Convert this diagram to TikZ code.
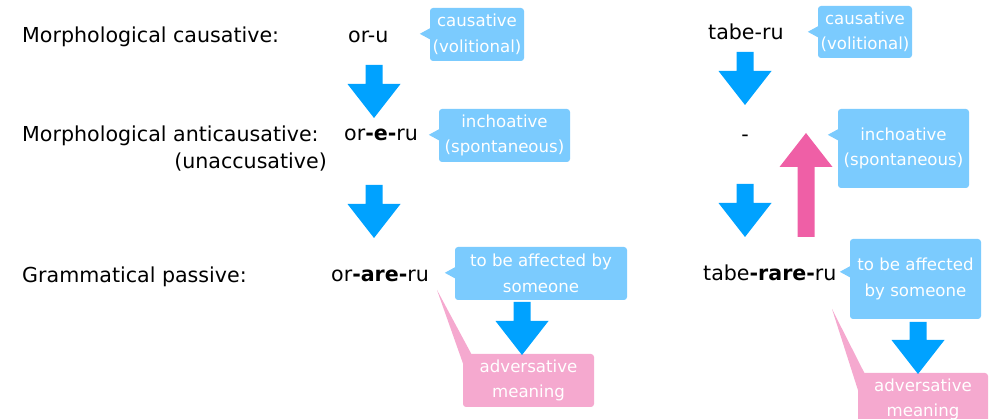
\documentclass[tikz,border=0pt]{standalone}
\usepackage{fontspec}
\setmainfont{DejaVu Sans}
\usetikzlibrary{calc}
\definecolor{boxblue}{HTML}{7BCBFE}
\definecolor{arrblue}{HTML}{00A2FF}
\definecolor{boxpink}{HTML}{F5A9CF}
\definecolor{arrpink}{HTML}{EF5FA6}
\newcommand\blockarrow[4]{% #1 start, #2 tip, #3 colour, #4 sign (1 down, -1 up)
  \fill[#3] ($(#1)+(-8.5,0)$) -- ($(#2)+({-8.5},{-34*#4})$) -- ($(#2)+({-26.5},{-34*#4})$) -- (#2)
    -- ($(#2)+({26.5},{-34*#4})$) -- ($(#2)+({8.5},{-34*#4})$) -- ($(#1)+(8.5,0)$) -- cycle;}
\newcommand\bluetail[2]{%
  \fill[boxblue] ($(#1.north west)+(1,{#2-6})$) -- ($(#1.north west)+(-10,#2)$) -- ($(#1.north west)+(1,{#2+6})$) -- cycle;}
\begin{document}
\begin{tikzpicture}[x=1pt,y=-1pt,
  lbl/.style={anchor=base west, inner sep=0, font=\fontsize{20.6}{24}\selectfont},
  note/.style={fill=boxblue, rounded corners=3pt, text=white, align=center, inner sep=0,
    font=\fontsize{16.6}{25.5}\selectfont},
  pnote/.style={note, fill=boxpink}]
\useasboundingbox (0,0) rectangle (989,419);
\clip (0,0) rectangle (989,419);

% row labels
\node[lbl] (mc) at (22,43) {Morphological causative:};
\node[lbl] (ma) at (22,142) {Morphological anticausative:};
\node[lbl, anchor=base east] (un) at (327,169) {(unaccusative)};
\node[lbl] (gp) at (22,283) {Grammatical passive:};

% forms
\node[lbl] (oru) at (348,43) {or-u};
\node[lbl] (oreru) at (344,141) {or\textbf{-e-}ru};
\node[lbl] (orareru) at (331,282) {or\textbf{-are-}ru};
\node[lbl] (taberu) at (708,40) {tabe-ru};
\node[lbl, anchor=base] (dash) at (745,142) {-};
\node[lbl] (taberareru) at (703,281) {tabe\textbf{-rare-}ru};

% pink callout tails
\coordinate (pt1) at (437,290);
\coordinate (pt2) at (832,309);

% notes
\node[note, minimum width=94pt, minimum height=53pt] (c1) at (477,34.5) {causative\\(volitional)};
\node[note, minimum width=131pt, minimum height=53pt] (i1) at (504.5,135.5) {inchoative\\(spontaneous)};
\node[note, minimum width=172pt, minimum height=53pt] (a1) at (541,273.5) {to be affected by\\someone};
\node[pnote, minimum width=131pt, minimum height=53pt] (adv1) at (528.5,380.5) {adversative\\meaning};
\node[note, minimum width=94pt, minimum height=52pt] (c2) at (865,32) {causative\\(volitional)};
\node[note, minimum width=131pt, minimum height=79pt] (i2) at (903.5,148.5) {inchoative\\(spontaneous)};
\node[note, minimum width=131pt, minimum height=80pt] (a2) at (915.5,279) {to be affected\\by someone};
\node[pnote, minimum width=130pt, minimum height=53pt] (adv2) at (923,399.5) {adversative\\meaning};

\bluetail{c1}{26}
\bluetail{i1}{26}
\bluetail{a1}{26}
\bluetail{c2}{26}
\bluetail{i2}{26}
\bluetail{a2}{33}
\fill[boxpink] (pt1) -- ($(adv1.north west)+(1,12)$) -- ($(adv1.north west)+(9,1)$) -- cycle;
\fill[boxpink] (pt2) -- ($(adv2.north west)+(1,20)$) -- ($(adv2.north west)+(7,1)$) -- cycle;

% block arrows
\coordinate (L1s) at (374,65);  \coordinate (L1t) at (374,118);
\coordinate (L2s) at (374,185); \coordinate (L2t) at (374,238);
\coordinate (L3s) at (522,302); \coordinate (L3t) at (522,355);
\coordinate (R1s) at (745,52);  \coordinate (R1t) at (745,105);
\coordinate (R2s) at (745,184); \coordinate (R2t) at (745,237);
\coordinate (R3s) at (918,322); \coordinate (R3t) at (918,374);
\coordinate (Ps) at (806,237);  \coordinate (Pt) at (806,133);
\blockarrow{L1s}{L1t}{arrblue}{1}
\blockarrow{L2s}{L2t}{arrblue}{1}
\blockarrow{L3s}{L3t}{arrblue}{1}
\blockarrow{R1s}{R1t}{arrblue}{1}
\blockarrow{R2s}{R2t}{arrblue}{1}
\blockarrow{R3s}{R3t}{arrblue}{1}
\blockarrow{Ps}{Pt}{arrpink}{-1}
\end{tikzpicture}
\end{document}
